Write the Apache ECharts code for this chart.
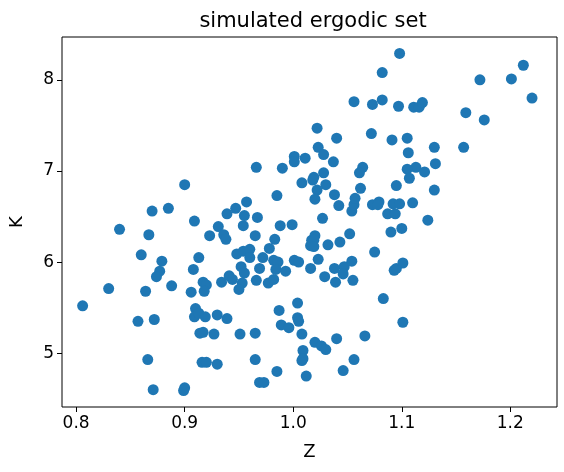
<!DOCTYPE html>
<html><head><meta charset="utf-8">
<script src="https://cdn.jsdelivr.net/npm/echarts@6/dist/echarts.min.js"></script>
<style>html,body{margin:0;padding:0;background:#fff}#c{width:564px;height:472px}</style>
</head><body><div id="c"></div>
<script>
const zValues=[1.098,1.082,1.212,1.201,1.172,1.220,1.056,1.073,1.082,1.097,1.111,1.116,1.119,1.159,1.176,1.022,1.040,1.072,1.091,1.105,1.130,1.157,1.023,1.001,1.001,1.011,1.028,1.037,1.106,1.131,1.113,1.105,1.121,1.064,1.061,1.028,0.990,0.966,1.019,
0.900,0.870,0.885,0.840,0.867,0.909,0.931,0.923,0.936,0.938,0.939,0.947,0.957,0.955,0.954,0.967,0.965,0.985,0.988,0.999,1.008,0.860,0.879,0.877,0.874,0.830,0.864,0.888,0.806,0.913,0.908,0.917,0.920,0.918,0.906,0.934,0.941,0.944,0.948,0.954,0.960,0.960,0.952,0.955,0.953,0.950,0.966,0.969,0.972,0.978,0.983,0.982,0.986,0.984,0.993,1.001,1.005,0.977,0.982,1.016,1.017,1.016,0.910,0.909,0.913,0.919,0.930,0.939,0.857,0.872,0.914,0.917,0.927,0.951,0.965,0.987,0.989,0.996,1.004,1.004,1.005,1.008,1.009,1.008,1.012,0.866,0.916,0.920,0.930,0.965,0.985,0.969,0.973,0.871,0.900,0.899,
1.018,1.030,1.022,1.020,1.038,1.042,1.054,1.056,1.057,1.062,1.095,1.107,1.130,1.073,1.079,1.078,1.092,1.098,1.110,1.087,1.094,1.124,1.090,1.100,1.027,1.020,1.019,1.019,1.032,1.043,1.052,1.075,1.023,1.038,1.047,1.046,1.054,1.029,1.039,1.055,1.093,1.095,1.101,1.083,1.101,1.020,1.026,1.030,1.040,1.066,1.009,1.056,1.046];
const kValues=[8.29,8.08,8.16,8.01,8.00,7.80,7.76,7.73,7.78,7.71,7.70,7.70,7.75,7.64,7.56,7.47,7.36,7.41,7.34,7.36,7.26,7.26,7.26,7.16,7.10,7.14,7.18,7.10,7.20,7.08,7.04,7.02,6.99,7.04,6.98,6.98,7.03,7.04,6.93,
6.85,6.56,6.59,6.36,6.30,6.45,6.39,6.29,6.30,6.25,6.53,6.59,6.66,6.51,6.40,6.49,6.29,6.73,6.40,6.41,6.87,6.08,6.01,5.90,5.84,5.71,5.68,5.74,5.52,6.05,5.92,5.78,5.75,5.68,5.67,5.78,5.85,5.81,6.09,6.12,6.14,6.05,5.95,5.88,5.77,5.70,5.80,5.93,6.05,6.15,6.25,6.02,6.00,5.92,5.90,6.02,6.00,5.77,5.81,5.93,6.24,6.18,5.49,5.40,5.44,5.40,5.42,5.38,5.35,5.37,5.22,5.23,5.21,5.21,5.22,5.47,5.31,5.28,5.55,5.39,5.35,5.21,5.03,4.92,4.75,4.93,4.90,4.90,4.88,4.93,4.80,4.68,4.68,4.60,4.62,4.59,
6.90,6.85,6.79,6.69,6.74,6.62,6.56,6.63,6.70,6.81,6.84,6.92,6.79,6.63,6.66,6.63,6.64,6.64,6.65,6.53,6.53,6.46,6.33,6.37,6.48,6.29,6.24,6.17,6.19,6.22,6.31,6.11,6.03,5.93,5.95,5.87,6.01,5.84,5.78,5.80,5.91,5.93,5.99,5.60,5.34,5.12,5.08,5.04,5.16,5.19,4.94,4.93,4.81];
const xTicks=[0.8,0.9,1.0,1.1,1.2];
const yTicks=[5,6,7,8];
const pts=zValues.map((z,i)=>[z,kValues[i]]);
const f='DejaVu Sans';
const chart=echarts.init(document.getElementById('c'));
chart.setOption({
  animation:false,
  title:{text:'simulated ergodic set',left:308,top:6,textAlign:'center',textStyle:{fontFamily:f,fontSize:21,fontWeight:'normal',color:'#000'}},
  grid:{left:60,right:7,top:37,bottom:65,show:true,borderColor:'#000',borderWidth:1},
  xAxis:{type:'value',min:0.787,max:1.243,name:'Z',nameLocation:'middle',nameGap:36,
    nameTextStyle:{fontFamily:f,fontSize:18,color:'#000'},
    axisLine:{show:false},splitLine:{show:false},
    axisTick:{show:true,length:5,inside:false,customValues:xTicks,lineStyle:{color:'#000'}},
    axisLabel:{customValues:xTicks,fontFamily:f,fontSize:17,color:'#000',margin:8,formatter:v=>v.toFixed(1)}},
  yAxis:{type:'value',min:4.41,max:8.47,name:'K',nameLocation:'middle',nameGap:36,
    nameTextStyle:{fontFamily:f,fontSize:18,color:'#000'},
    axisLine:{show:false},splitLine:{show:false},
    axisTick:{show:true,length:5,customValues:yTicks,lineStyle:{color:'#000'}},
    axisLabel:{customValues:yTicks,fontFamily:f,fontSize:17,color:'#000',margin:8}},
  series:[{type:'scatter',data:pts,symbolSize:11,itemStyle:{color:'#1f77b4',opacity:1}}]
});
</script></body></html>
